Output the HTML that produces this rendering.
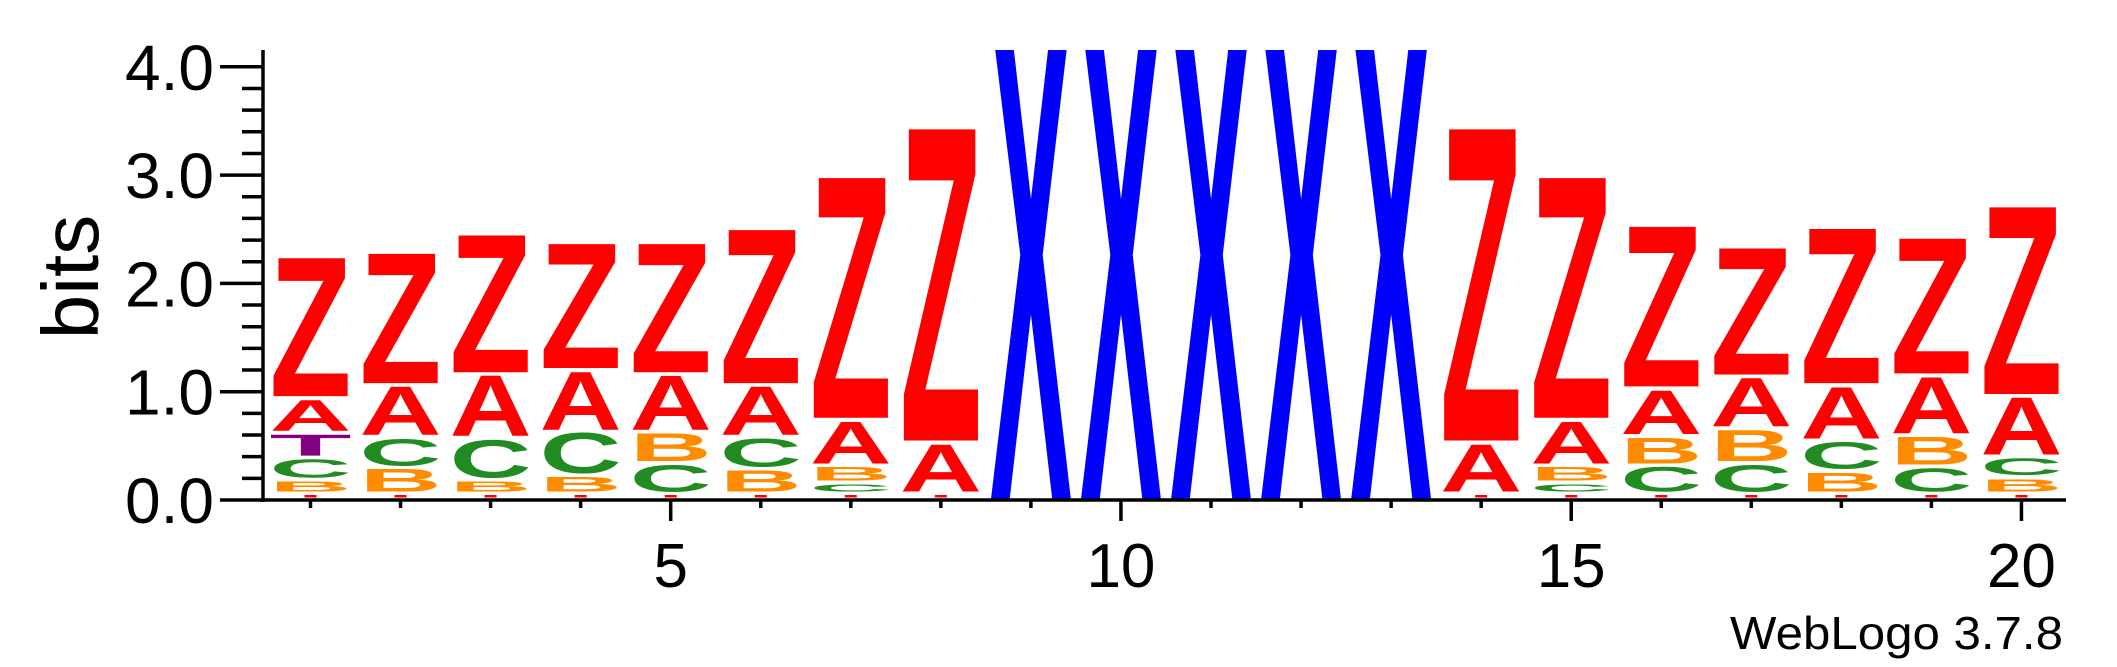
<!DOCTYPE html>
<html><head><meta charset="utf-8"><style>
html,body{margin:0;padding:0;background:#fff;}
svg{display:block;}
text{font-family:"Liberation Sans",sans-serif;}
</style></head><body>
<svg id="chart" width="2117" height="667" viewBox="0 0 2117 667">
<defs><clipPath id="plotclip"><rect x="263" y="50" width="1810" height="460"/></clipPath></defs>
<g id="stacks" clip-path="url(#plotclip)"></g>
<g id="axes"></g>
</svg>
<script>
const positions = [1,2,3,4,5,6,7,8,9,10,11,12,13,14,15,16,17,18,19,20];
const bitsZ = [1.31,1.23,1.30,1.18,1.22,1.45,2.25,2.91,0,0,0,0,0,2.91,2.25,1.51,1.20,1.46,1.28,1.76];
const bitsA = [0.32,0.48,0.59,0.57,0.53,0.48,0.42,0.47,0,0,0,0,0,0.47,0.42,0.44,0.48,0.51,0.55,0.56];
const bitsB = [0.13,0.24,0.13,0.17,0.29,0.23,0.16,0,0,0,0,0,0,0,0.16,0.27,0.32,0.21,0.29,0.15];
const bitsC = [0.20,0.28,0.38,0.40,0.28,0.29,0.10,0,0,0,0,0,0,0,0.10,0.26,0.28,0.28,0.25,0.19];
const bitsT = [0.23,0,0,0,0,0,0,0,0,0,0,0,0,0,0,0,0,0,0,0];
const bitsMinor = [0.07,0.07,0.07,0.07,0.07,0.07,0.07,0.07,0,0,0,0,0,0.07,0.07,0.07,0.07,0.07,0.07,0.07];
const bitsX = [0,0,0,0,0,0,0,0,4.32,4.32,4.32,4.32,4.32,0,0,0,0,0,0,0];
const yTicks = [0,1,2,3,4];
const yTickLabels = ["0.0","1.0","2.0","3.0","4.0"];
const xTickLabels = [5,10,15,20];

const NS="http://www.w3.org/2000/svg";
const colors={Z:"#ff0000",A:"#ff0000",B:"#ff8c00",C:"#228b22",T:"#800080",X:"#0000ff",m:"#ff0000"};
const x0=310.5, step=90.05, base=500, perBit=108.3;
function xPos(p){return x0+(p-1)*step;}
function yPos(v){return base-v*perBit;}
const stacks=document.getElementById('stacks');
const axes=document.getElementById('axes');
const series={m:bitsMinor,Z:bitsZ,A:bitsA,B:bitsB,C:bitsC,T:bitsT,X:bitsX};
const letterW=82, CAP=0.688;
positions.forEach((p,i)=>{
  const items=Object.keys(series).map(k=>[k,series[k][i]]).filter(d=>d[1]>0.005).sort((a,b)=>a[1]-b[1]);
  let acc=0;
  items.forEach(([k,h])=>{
    const yb=yPos(acc)-1, yt=yPos(acc+h)-1;
    if(k==='m'){
      const r=document.createElementNS(NS,'rect');
      
      
      r.setAttribute('x',xPos(p)-6);r.setAttribute('y',yb-4);r.setAttribute('width',12);r.setAttribute('height',2.5);
      r.setAttribute('fill',colors.m);
      stacks.appendChild(r);
      acc+=h;return;
    }
    const hh=Math.max(1,(yb-yt)-4);
    const t=document.createElementNS(NS,'text');
    
    
    t.setAttribute('x',0);t.setAttribute('y',0);
    t.setAttribute('font-size',100);
    t.setAttribute('font-weight','bold');
    t.setAttribute('fill',colors[k]);
    t.setAttribute('textLength',letterW);
    t.setAttribute('lengthAdjust','spacingAndGlyphs');
    t.setAttribute('transform','translate('+(xPos(p)-letterW/2)+','+yb+') scale(1,'+(hh/(100*CAP))+')');
    t.textContent=k;
    stacks.appendChild(t);
    acc+=h;
  });
});
function line(x1,y1,x2,y2,w,name){
  const l=document.createElementNS(NS,'line');
  l.setAttribute('x1',x1);l.setAttribute('y1',y1);l.setAttribute('x2',x2);l.setAttribute('y2',y2);
  l.setAttribute('stroke','#000');l.setAttribute('stroke-width',w);
  
  
  axes.appendChild(l);
}
function txt(x,y,s,size,anchor,name,extra){
  const t=document.createElementNS(NS,'text');
  t.setAttribute('x',x);t.setAttribute('y',y);t.setAttribute('font-size',size);
  t.setAttribute('text-anchor',anchor);t.setAttribute('fill','#000');
  if(extra)for(const k in extra)t.setAttribute(k,extra[k]);
  
  
  t.textContent=s;axes.appendChild(t);return t;
}
line(263,50,263,502,3.5,'y-axis-line');
line(261,500,2066,500,3.5,'x-axis-line');
for(let v=0;v<=4.001;v+=0.2){
  const major=Math.abs(v-Math.round(v))<0.01;
  line(major?220:242,yPos(v),263,yPos(v),3.5,major?'y-major-tick':'y-minor-tick');
}
yTicks.forEach((v,i)=>txt(214,yPos(v)+23,yTickLabels[i],64,'end','y-tick-label'));
positions.forEach(p=>{
  const major=xTickLabels.includes(p);
  line(xPos(p),500,xPos(p),major?521:508,3.5,major?'x-major-tick':'x-minor-tick');
});
xTickLabels.forEach(p=>txt(xPos(p),587,String(p),62,'middle','x-tick-label'));
txt(0,0,'bits',80,'middle','y-axis-title',{transform:'translate(98,277) rotate(-90)'});
txt(2063,649,'WebLogo 3.7.8',46,'end','weblogo-credit',{textLength:333,lengthAdjust:'spacingAndGlyphs'});
</script>
</body></html>
